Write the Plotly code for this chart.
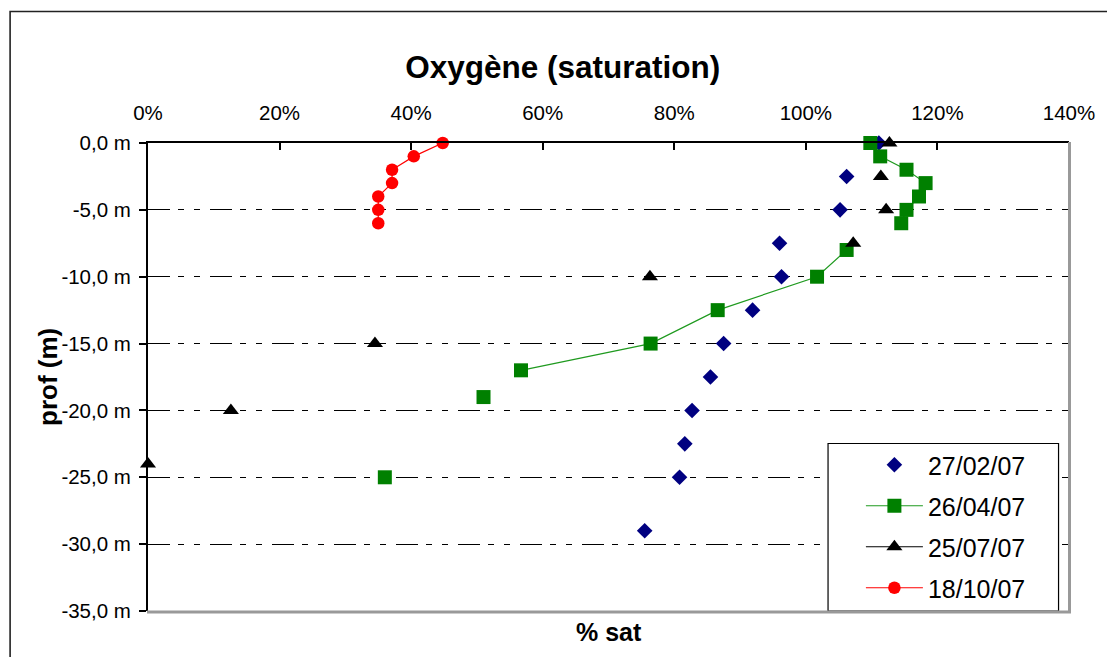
import plotly.graph_objects as go

# ---- data ----
x_ticks = [0, 20, 40, 60, 80, 100, 120, 140]
x_tick_labels = ["0%", "20%", "40%", "60%", "80%", "100%", "120%", "140%"]
y_ticks = [0, -5, -10, -15, -20, -25, -30, -35]
y_tick_labels = ["0,0 m", "-5,0 m", "-10,0 m", "-15,0 m", "-20,0 m", "-25,0 m", "-30,0 m", "-35,0 m"]

feb_name = "27/02/07"
feb_sat = [111.1, 106.2, 105.2, 96.0, 96.3, 91.9, 87.5, 85.5, 82.7, 81.6, 80.8, 75.5]
feb_depth = [0, -2.5, -5, -7.5, -10, -12.5, -15, -17.5, -20, -22.5, -25, -29]

apr_name = "26/04/07"
apr_sat = [109.8, 111.3, 115.3, 118.2, 117.2, 115.3, 114.5, None, 106.2, 101.7, 86.6, 76.4, 56.7, None, 51.0, None, 36.0]
apr_depth = [0, -1, -2, -3, -4, -5, -6, None, -8, -10, -12.5, -15, -17, None, -19, None, -25]

jul_name = "25/07/07"
jul_sat = [112.7, 111.4, 112.2, 107.2, 76.3, 34.5, 12.6, 0.0]
jul_depth = [0, -2.5, -5, -7.5, -10, -15, -20, -24]

oct_name = "18/10/07"
oct_sat = [44.8, 40.4, 37.1, 37.1, 35.0, 35.0, 35.0]
oct_depth = [0, -1, -2, -3, -4, -5, -6]

FONT = "Liberation Sans, Arial, sans-serif"

# geometry (pixels)
W, H = 1107, 657
L, R, T, B = 148, 1073, 143, 611
pw, ph = R - L, B - T


def px(x):
    return (x - L) / pw


def py(y):
    return (B - y) / ph


def gapped(vals):
    out = []
    for i, v in enumerate(vals):
        if i:
            out.append(None)
        out.append(v)
    return out


fig = go.Figure()

fig.add_trace(go.Scatter(
    x=feb_sat, y=feb_depth, name=feb_name, mode="markers", legendgroup="a",
    marker=dict(symbol="diamond", size=12, color="#000080"), cliponaxis=False))
fig.add_trace(go.Scatter(
    x=apr_sat, y=apr_depth, name=apr_name, mode="lines+markers", legendgroup="b",
    connectgaps=False,
    line=dict(color="#1f9a1f", width=1.2),
    marker=dict(symbol="square", size=14, color="#008000"), cliponaxis=False))
fig.add_trace(go.Scatter(
    x=gapped(jul_sat), y=gapped(jul_depth), name=jul_name, mode="lines+markers",
    legendgroup="c", connectgaps=False,
    line=dict(color="black", width=1.2),
    marker=dict(symbol="triangle-up", size=14, color="black"), cliponaxis=False))
fig.add_trace(go.Scatter(
    x=oct_sat, y=oct_depth, name=oct_name, mode="lines+markers", legendgroup="d",
    line=dict(color="#ff0000", width=1.2),
    marker=dict(symbol="circle", size=12.5, color="#ff0000"), cliponaxis=False))

shapes = [
    # outer chart border
    dict(type="rect", xref="paper", yref="paper",
         x0=px(9.5), x1=px(1115), y0=py(11.5), y1=py(665),
         line=dict(color="#222", width=1.6), layer="below"),
    # legend box
    dict(type="rect", xref="paper", yref="paper",
         x0=px(831), x1=px(1062.5), y0=py(611), y1=py(443.5),
         line=dict(color="black", width=1.2), fillcolor="white", layer="above"),
    # plot-area gray right / bottom border
    dict(type="line", xref="paper", yref="paper", x0=px(1073.5), x1=px(1073.5),
         y0=py(612.5), y1=py(142), line=dict(color="#999999", width=3), layer="above"),
    dict(type="line", xref="paper", yref="paper", x0=px(147), x1=px(1075),
         y0=py(612), y1=py(612), line=dict(color="#999999", width=3), layer="above"),
]

annotations = [
    dict(text="<b>% sat</b>", xref="paper", yref="paper", x=px(610.5), y=py(632),
         xanchor="center", yanchor="middle", showarrow=False,
         font=dict(family=FONT, size=25, color="black")),
    dict(text="<b>prof (m)</b>", xref="paper", yref="paper", x=px(47.5), y=py(377),
         xanchor="center", yanchor="middle", showarrow=False, textangle=-90,
         font=dict(family=FONT, size=26, color="black")),
]

fig.update_layout(
    width=W, height=H,
    margin=dict(l=L, r=W - R, t=T, b=H - B, pad=0),
    paper_bgcolor="white", plot_bgcolor="white",
    font=dict(family=FONT, size=20.5, color="black"),
    title=dict(text="<b>Oxygène (saturation)</b>", x=px(564.5), xref="paper",
               xanchor="center", y=1 - 67 / H, yref="container", yanchor="middle",
               font=dict(family=FONT, size=31.5, color="black")),
    xaxis=dict(range=[0, 140], side="top", tickvals=x_ticks, ticktext=x_tick_labels,
               ticks="inside", ticklen=7, tickcolor="black", tickwidth=1.5,
               showline=True, linecolor="black", linewidth=2, showgrid=False,
               zeroline=False, ticklabelstandoff=13,
               tickfont=dict(family=FONT, size=20.5, color="black")),
    yaxis=dict(range=[-35, 0], tickvals=y_ticks, ticktext=y_tick_labels,
               ticks="outside", ticklen=7, tickcolor="black", tickwidth=1.5,
               showline=True, linecolor="black", linewidth=2,
               showgrid=True, gridcolor="black", gridwidth=1,
               griddash="22px,8px,6px,10px,6px,10px",
               zeroline=False, ticklabelstandoff=4,
               tickfont=dict(family=FONT, size=20.5, color="black")),
    showlegend=True,
    legend=dict(x=px(864), y=py(442), xanchor="left", yanchor="top",
                bgcolor="rgba(0,0,0,0)", borderwidth=0,
                font=dict(family=FONT, size=25, color="black"),
                itemwidth=57, tracegroupgap=5.5, traceorder="grouped"),
    shapes=shapes,
    annotations=annotations,
)

fig.write_html("out.html")
